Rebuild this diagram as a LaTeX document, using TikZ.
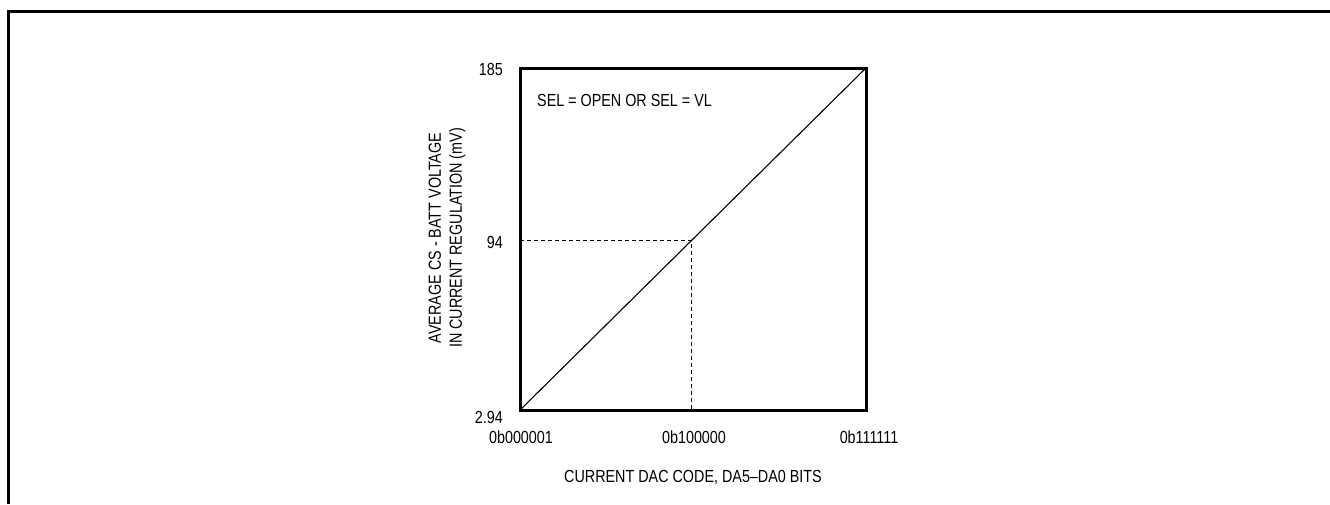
\documentclass[tikz,border=0pt]{standalone}
\usepackage{fontspec}
\setmainfont[FakeStretch=0.82]{Liberation Sans}
\begin{document}
\begin{tikzpicture}[x=1pt,y=-1pt,
    lbl/.style={font=\fontsize{17.5}{21}\selectfont, inner sep=0pt},
    frm/.style={line width=3pt}]
    \useasboundingbox (0,0) rectangle (1330,504);
    \draw[frm] (8,504) -- (8,11) -- (1330,11);

    % plot area
    \coordinate (o) at (520,410);
    \coordinate (tr) at (866,68);
    \coordinate (mid) at (691,240);
    \coordinate (midy) at (520,240);
    \coordinate (midx) at (691,410);
    \draw[black, line width=1.1pt] (o) -- (tr);
    \draw[dashed, line width=0.9pt, dash pattern=on 4pt off 3pt] (midy) -- (mid) -- (midx);
    \draw[frm] (o) rectangle (tr);

    % y ticks
    \node[lbl, anchor=east] (y185) at (503,69) {185};
    \node[lbl, anchor=east] (y94) at (503,242) {94};
    \node[lbl, anchor=east] (y294) at (503,417) {2.94};
    % x ticks
    \node[lbl] (x1) at (521,437) {0b000001};
    \node[lbl] (x32) at (694,437) {0b100000};
    \node[lbl] (x63) at (869,437) {0b111111};

    \node[lbl, anchor=west] (sel) at (537,100) {SEL = OPEN OR SEL = VL};
    \node[lbl] (xlab) at (693,477) {CURRENT DAC CODE, DA5--DA0 BITS};
    \node[lbl, rotate=90, align=center] (ylab) at (447,238)
        {AVERAGE CS - BATT VOLTAGE\\IN CURRENT REGULATION (mV)};
\end{tikzpicture}
\end{document}
